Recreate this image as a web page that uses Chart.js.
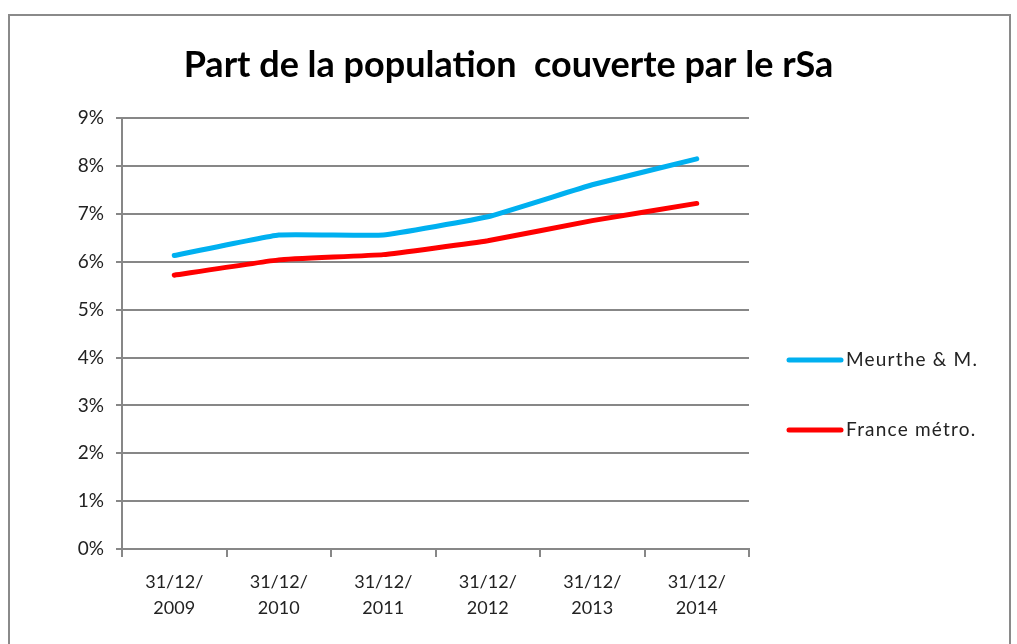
<!DOCTYPE html>
<html>
<head>
<meta charset="utf-8">
<script src="https://cdn.jsdelivr.net/npm/chart.js@4.4.0/dist/chart.umd.min.js"></script>
<style>
  html, body { margin: 0; padding: 0; background: #fff; overflow: hidden; }
  #frame { position: absolute; left: 8px; top: 14px; width: 1003px; height: 700px; border: 2px solid #8a8a8a; box-sizing: border-box; }
  #chart { position: absolute; left: 0; top: 0; }
</style>
</head>
<body>
<div id="frame"></div>
<canvas id="chart" width="1017" height="644"></canvas>
<script>
const years = ["2009", "2010", "2011", "2012", "2013", "2014"];
const meurthe = [6.13, 6.56, 6.56, 6.94, 7.61, 8.15];
const france = [5.72, 6.04, 6.15, 6.44, 6.86, 7.22];
const yTicks = [0, 1, 2, 3, 4, 5, 6, 7, 8, 9];

const labels = years.map(y => ["31/12/", y]);
const font = "Lato, 'Open Sans', sans-serif";

// legend drawn beside the plot, like the spreadsheet original
const sideLegend = {
  id: "sideLegend",
  afterDraw(chart) {
    const c = chart.ctx;
    const x0 = chart.chartArea.right + 40;
    const rows = [360, 430];
    c.save();
    chart.data.datasets.forEach((ds, i) => {
      c.strokeStyle = ds.borderColor;
      c.lineWidth = 5;
      c.lineCap = "round";
      c.beginPath();
      c.moveTo(x0, rows[i]);
      c.lineTo(x0 + 52, rows[i]);
      c.stroke();
      c.fillStyle = "#222";
      c.font = "19px " + font;
      c.letterSpacing = "1.2px";
      c.textBaseline = "middle";
      c.fillText(ds.label, x0 + 57, rows[i]);
    });
    c.restore();
  }
};

new Chart(document.getElementById("chart"), {
  type: "line",
  data: {
    labels: labels,
    datasets: [
      { label: "Meurthe & M.", data: meurthe, borderColor: "#00b0f0", borderWidth: 5, pointRadius: 0, tension: 0.1, borderCapStyle: "round" },
      { label: "France métro.", data: france, borderColor: "#ff0000", borderWidth: 5, pointRadius: 0, tension: 0.1, borderCapStyle: "round" }
    ]
  },
  options: {
    responsive: false,
    animation: false,
    layout: { padding: 0 },
    plugins: {
      legend: { display: false },
      tooltip: { enabled: false },
      title: {
        display: true,
        text: "Part de la population  couverte par le rSa",
        color: "#000",
        font: { family: font, size: 36, weight: "bold" },
        padding: { top: 44, bottom: 31 }
      }
    },
    scales: {
      x: {
        offset: true,
        grid: { offset: true, drawOnChartArea: false, drawTicks: true, tickLength: 8, color: "#878787", lineWidth: 2 },
        border: { color: "#878787", width: 2 },
        ticks: { color: "#222", font: { family: font, size: 18, lineHeight: 1.45 }, padding: 12, maxRotation: 0 },
        afterFit(s) { s.height = 95; }
      },
      y: {
        min: 0,
        max: 9,
        afterBuildTicks(s) { s.ticks = yTicks.map(v => ({ value: v })); },
        grid: { color: "#878787", lineWidth: 2, tickLength: 6 },
        border: { color: "#878787", width: 2 },
        ticks: { color: "#222", font: { family: font, size: 19 }, padding: 12, callback: v => v + "%" },
        afterFit(s) { s.width = 122; }
      },
      // empty right-hand axis that reserves room for the legend
      side: {
        position: "right",
        ticks: { display: false },
        grid: { display: false },
        border: { display: false },
        afterFit(s) { s.width = 268; }
      }
    }
  },
  plugins: [sideLegend]
});
</script>
</body>
</html>
